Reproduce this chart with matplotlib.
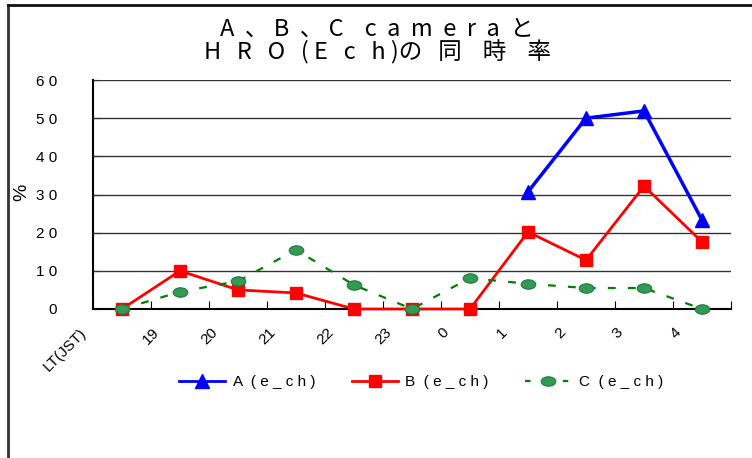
import matplotlib
matplotlib.use("Agg")
import matplotlib.pyplot as plt
from matplotlib.path import Path
from matplotlib.transforms import Affine2D
from matplotlib.lines import Line2D
import numpy as np

plt.rcParams['font.family'] = ['Noto Sans CJK JP', 'DejaVu Sans']

x_labels = ["19", "20", "21", "22", "23", "0", "1", "2", "3", "4"]
first_label = "LT(JST)"
a_vals = [None, None, None, None, None, None, None, 30.7, 50.0, 51.9, 23.3]
b_vals = [0, 10.0, 5.0, 4.2, 0, 0, 0, 20.2, 12.8, 32.2, 17.6]
c_vals = [0, 4.5, 7.3, 15.5, 6.3, 0, 8.1, 6.6, 5.5, 5.5, 0]
y_ticks = [0, 10, 20, 30, 40, 50, 60]
series_names = ["A  ( e _ c h )", "B  ( e _ c h )", "C  ( e _ c h )"]
title_text = "A  、 B  、 C    c  a  m  e  r  a  と\nH   R   O   ( E   c   h )の   同    時    率"

fig = plt.figure(figsize=(7.52, 4.58), dpi=100)
ax = fig.add_axes([93/752, 1-309/458, (731-93)/752, (309-80)/458])

xs = np.arange(len(b_vals))
a_arr = np.array([np.nan if v is None else v for v in a_vals], dtype=float)

ellipse = Path.unit_circle().transformed(Affine2D().scale(1.55, 1.0))

ax.plot(xs, a_arr, color='#0000FF', lw=2.5, marker='^', ms=10, mec='#0000FF', mfc='#0000FF', zorder=3, clip_on=False)
ax.plot(xs, b_vals, color='#FF0000', lw=2, marker='s', ms=8, mec='#FF0000', mfc='#FF0000', zorder=4, clip_on=False)
ax.plot(xs, c_vals, color='#008000', lw=1.6, ls=(0, (3.5, 5.5)), marker=ellipse, ms=10.5,
        mfc='#339955', mec='#1E7A3C', mew=0.8, zorder=5, clip_on=False)

ax.set_xlim(-0.5, 10.5)
ax.set_ylim(0, 60)
ax.set_yticks(y_ticks)
ax.set_yticklabels([" ".join(str(t)) for t in y_ticks], fontsize=11, family='Liberation Sans')
ax.yaxis.grid(True, color='#333333', lw=1)
ax.set_axisbelow(True)
ax.tick_params(axis='y', direction='in', length=6, pad=26, color='#333333')

ax.set_xticks(np.arange(-0.5, 11, 1.0))
ax.set_xticklabels([""] + x_labels + [""], fontsize=11, family='Liberation Sans',
                   rotation=45, ha='right', va='center', rotation_mode='anchor')
ax.tick_params(axis='x', direction='in', length=6, pad=15)
for lbl in ax.get_xticklabels():
    lbl.set_transform(lbl.get_transform() + Affine2D().translate(6, 0))

for s in ['top', 'right']:
    ax.spines[s].set_visible(False)
for s in ['left', 'bottom']:
    ax.spines[s].set_color('black')
    ax.spines[s].set_linewidth(1.5)

fig.text(79/752, 1-326/458, first_label, rotation=45, rotation_mode='anchor',
         ha='right', va='top', fontsize=11, family='Liberation Sans')

fig.text(22/752, 1-192/458, "%", rotation=90, ha='center', va='center', fontsize=14, family='Liberation Sans')

fig.text(377/752, 1-41/458, title_text, ha='center', va='center', multialignment='center',
         fontsize=17, linespacing=0.95)

handles = [
    Line2D([], [], color='#0000FF', lw=2, marker='^', ms=10, mfc='#0000FF', mec='#0000FF'),
    Line2D([], [], color='#FF0000', lw=2, marker='s', ms=8, mfc='#FF0000', mec='#FF0000'),
    Line2D([], [], color='#008000', lw=1.6, ls=(0, (2.5, 6)), marker=ellipse, ms=10.5, mfc='#339955', mec='#1E7A3C', mew=0.8),
]
fig.legend(handles, series_names, loc='center', bbox_to_anchor=(421/752, 1-382/458), ncol=3,
           frameon=False, handlelength=3, columnspacing=2.4, handletextpad=0.5,
           prop={'family': 'Liberation Sans', 'size': 11})

# outer chart frame (left and top only, rest cropped)
fig.add_artist(Line2D([7.5/752, 7.5/752], [0, 1-4.5/458], color='#333333', lw=2, transform=fig.transFigure))
fig.add_artist(Line2D([7.5/752, 1], [1-4.5/458, 1-4.5/458], color='#111111', lw=2, transform=fig.transFigure))

fig.savefig("out.png", dpi=100)
